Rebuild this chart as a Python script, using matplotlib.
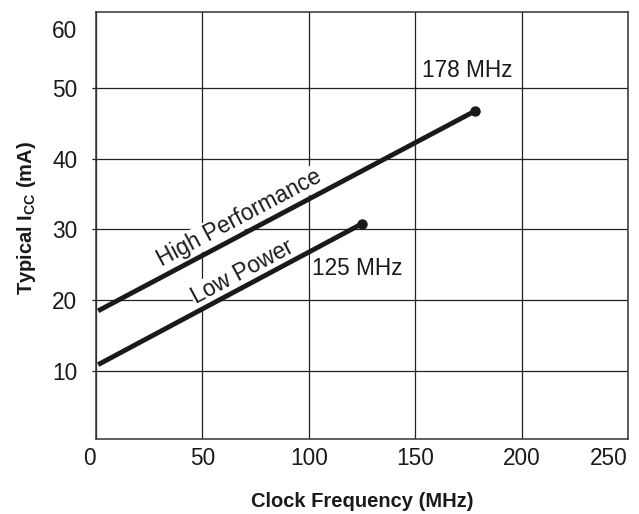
import matplotlib
matplotlib.use("Agg")
import matplotlib.pyplot as plt
from matplotlib.transforms import ScaledTranslation

plt.rcParams['font.family'] = ['Liberation Sans', 'DejaVu Sans']
plt.rcParams['mathtext.fontset'] = 'custom'
plt.rcParams['mathtext.rm'] = 'Liberation Sans'
plt.rcParams['mathtext.bf'] = 'Liberation Sans:bold'

# Data
hp_freq = [1, 178]
hp_icc = [18.5, 46.7]
lp_freq = [1, 125]
lp_icc = [10.9, 30.8]
x_ticks = [0, 50, 100, 150, 200, 250]
y_ticks = [10, 20, 30, 40, 50, 60]
x_label = "Clock Frequency (MHz)"
y_label = r"Typical $\mathbf{I_{CC}}$ (mA)"

ink = '#1a1a1a'
fs = 16.3
fig = plt.figure(figsize=(6.39, 5.14), dpi=100)
ax = fig.add_axes([96/639, 1-439/514, 532/639, 427/514])
ax.set_xlim(0, 250)
ax.set_ylim(0.4, 60.7)
ax.set_xticks(x_ticks)
ax.set_yticks(y_ticks)
ax.grid(True, color='#222222', linewidth=0.9)
ax.set_axisbelow(True)
for s in ax.spines.values():
    s.set_color('#333333')
    s.set_linewidth(1.1)

ax.tick_params(axis='x', length=0, pad=6, labelsize=fs, colors=ink)
ax.tick_params(axis='y', length=3, width=0.9, pad=10.5, labelsize=fs, colors=ink, direction='out')

# 60 label: no gridline, no tick, shifted down like the reference
t60 = ax.yaxis.get_major_ticks()[-1]
t60.gridline.set_visible(False)
t60.tick1line.set_visible(False)
t60.label1.set_transform(t60.label1.get_transform() + ScaledTranslation(0, -12/100, fig.dpi_scale_trans))

xl = ax.get_xticklabels()
xl[0].set_horizontalalignment('right')
xl[-1].set_horizontalalignment('right')

# Lines
ax.plot(hp_freq, hp_icc, color=ink, lw=3.5, solid_capstyle='butt', zorder=4)
ax.plot(hp_freq[-1:], hp_icc[-1:], 'o', color=ink, ms=6.5, zorder=4)
ax.plot(lp_freq, lp_icc, color=ink, lw=3.5, solid_capstyle='butt', zorder=4)
ax.plot(lp_freq[-1:], lp_icc[-1:], 'o', color=ink, ms=6.5, zorder=4)

bb = dict(facecolor='white', edgecolor='none', pad=1)
ax.text(67.2, 31.6, "High Performance", rotation=28, ha='center', va='center',
        rotation_mode='anchor', fontsize=fs, color=ink, bbox=bb, zorder=3)
ax.text(69, 24.0, "Low Power", rotation=28, ha='center', va='center',
        rotation_mode='anchor', fontsize=fs, color=ink, bbox=bb, zorder=3)
ax.text(174.3, 52.5, "178 MHz", ha='center', va='center', fontsize=fs, color=ink,
        bbox=bb, zorder=3)
ax.text(122.7, 24.5, "125 MHz", ha='center', va='center', fontsize=fs, color=ink,
        bbox=bb, zorder=3)

ax.set_xlabel(x_label, fontsize=14.5, fontweight='bold', color=ink)
ax.xaxis.set_label_coords(0.5, -(492-439)/427)
ax.set_ylabel(y_label, fontsize=14.5, fontweight='bold', color=ink)
ax.yaxis.set_label_coords((38-96)/532, (439-218)/427)

fig.savefig("out.png", dpi=100, facecolor='white')
